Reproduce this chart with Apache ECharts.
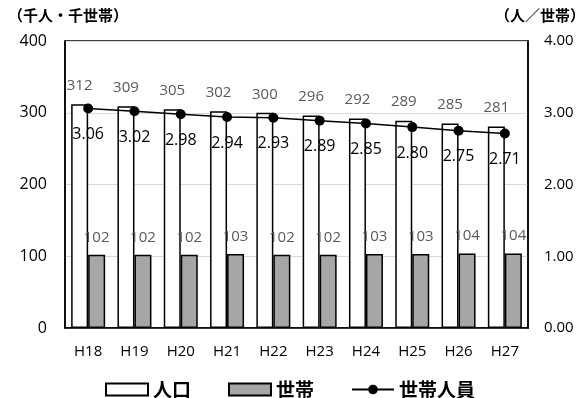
<!DOCTYPE html>
<html><head><meta charset="utf-8">
<script src="https://cdn.jsdelivr.net/npm/echarts@6/dist/echarts.min.js"></script>
<style>html,body{margin:0;padding:0;background:#fff}#c{width:587px;height:398px}</style>
</head><body><div id="c"></div>
<script>
const categories = ['H18','H19','H20','H21','H22','H23','H24','H25','H26','H27'];
const population = [312,309,305,302,300,296,292,289,285,281];
const households = [102,102,102,103,102,102,103,103,104,104];
const perHousehold = [3.06,3.02,2.98,2.94,2.93,2.89,2.85,2.80,2.75,2.71];
const leftTicks = [0,100,200,300,400];
const rightTicks = [0,1,2,3,4];

const FONT = '"Noto Sans CJK JP", "Noto Sans", sans-serif';
const NUMFONT = '"Open Sans", "Noto Sans", sans-serif';
const chart = echarts.init(document.getElementById('c'));
chart.setOption({
  animation:false,
  textStyle:{fontFamily:FONT},
  grid:{left:65,right:59,top:41,bottom:70,show:true,borderColor:'#000',borderWidth:1.5,backgroundColor:'transparent'},
  graphic:[
    {type:'text',left:8,top:8,style:{text:'（千人・千世帯）',font:'bold 15px '+FONT,fill:'#000'}},
    {type:'text',right:2,top:8,style:{text:'（人／世帯）',font:'bold 15px '+FONT,fill:'#000'}}
  ],
  legend:{
    top:375,left:100,itemGap:37,itemWidth:42,itemHeight:12,
    textStyle:{fontSize:19,fontWeight:'bold',color:'#000',fontFamily:FONT},
    data:[{name:'人口',icon:'rect'},{name:'世帯',icon:'rect'},{name:'世帯人員'}]
  },
  xAxis:{
    type:'category',data:categories,
    axisLine:{show:true,lineStyle:{color:'#000',width:1.5}},
    axisTick:{show:false},
    axisLabel:{color:'#000',fontSize:15,margin:16,fontFamily:NUMFONT}
  },
  yAxis:[
    {type:'value',min:leftTicks[0],max:leftTicks[leftTicks.length-1],interval:100,
     axisLine:{show:true,lineStyle:{color:'#000',width:1.5}},axisTick:{show:false},
     splitLine:{show:true,lineStyle:{color:'#d9d9d9',width:1}},
     axisLabel:{color:'#000',fontSize:16,margin:18,fontFamily:NUMFONT}},
    {type:'value',min:rightTicks[0],max:rightTicks[rightTicks.length-1],interval:1,
     axisLine:{show:true,lineStyle:{color:'#000',width:1.5}},axisTick:{show:false},
     splitLine:{show:false},
     axisLabel:{color:'#000',fontSize:15,margin:16,fontFamily:NUMFONT,formatter:v=>v.toFixed(2)}}
  ],
  series:[
    {name:'人口',type:'bar',data:population,barWidth:17,barGap:'0%',
     itemStyle:{color:'#fff',borderColor:'#000',borderWidth:1.5},
     label:{show:true,position:'top',distance:11,color:'#595959',fontSize:15,fontFamily:NUMFONT}},
    {name:'世帯',type:'bar',data:households,barWidth:17,barGap:'0%',
     itemStyle:{color:'#a6a6a6',borderColor:'#000',borderWidth:1.5},
     label:{show:true,position:'top',distance:10,color:'#595959',fontSize:15,fontFamily:NUMFONT}},
    {name:'世帯人員',type:'line',yAxisIndex:1,data:perHousehold,
     symbol:'circle',symbolSize:10,
     lineStyle:{color:'#000',width:1.5},itemStyle:{color:'#000'},
     label:{show:true,position:'bottom',distance:13,color:'#000',fontSize:16,fontFamily:NUMFONT,
       formatter:p=>p.value.toFixed(2)}}
  ]
});
</script></body></html>
